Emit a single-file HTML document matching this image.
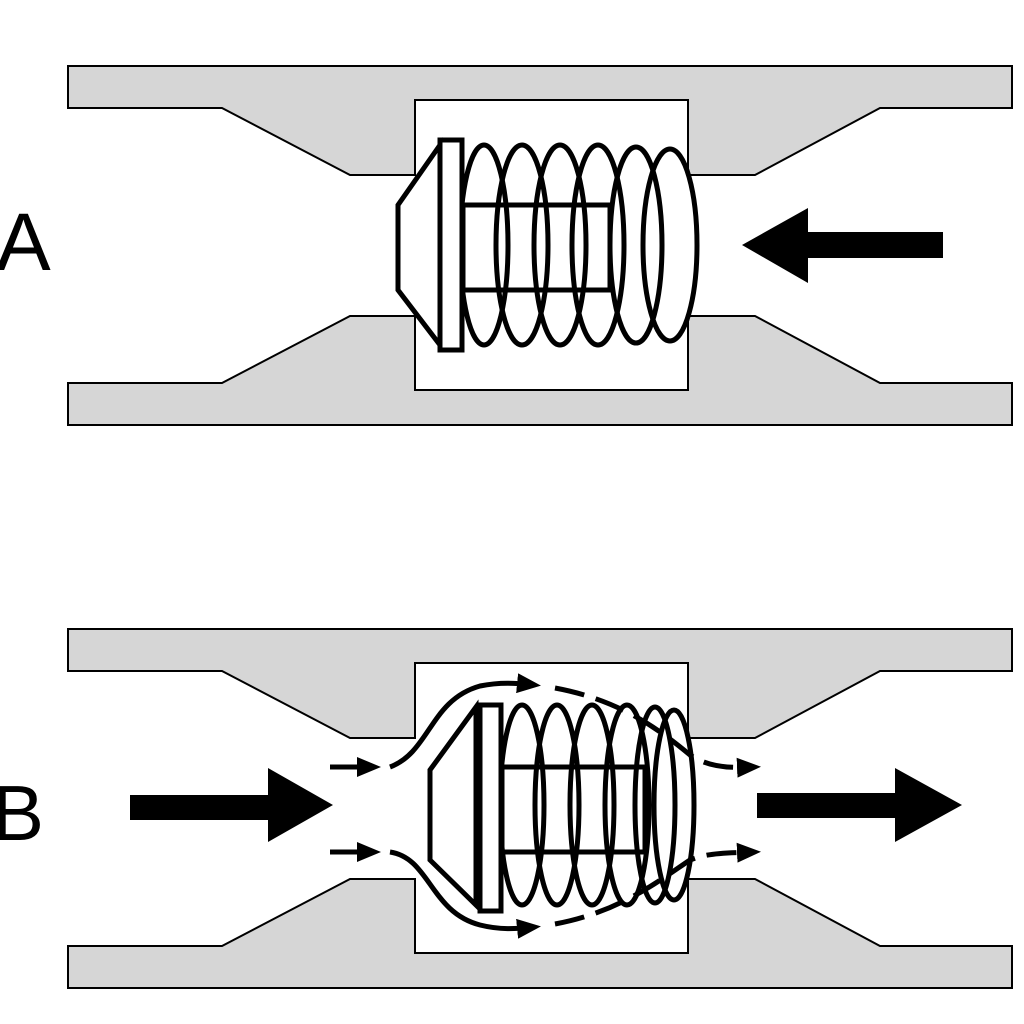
<!DOCTYPE html>
<html><head><meta charset="utf-8"><style>html,body{margin:0;padding:0;background:#fff;width:1024px;height:1024px;overflow:hidden}</style></head>
<body>
<svg width="1024" height="1024" viewBox="0 0 1024 1024" xmlns="http://www.w3.org/2000/svg">
<defs>
<marker id="ah" viewBox="0 0 12 10" refX="9" refY="5" markerUnits="userSpaceOnUse" markerWidth="24" markerHeight="20" orient="auto"><path d="M0,0 L12,5 L0,10 z" fill="#000"/></marker>
<g id="body" stroke="#000" stroke-width="2" fill="#d6d6d6">
<polygon points="68,66 1012,66 1012,108 880,108 755,175 688,175 688,100 415,100 415,175 350,175 222,108 68,108"/>
<polygon points="68,425 1012,425 1012,383 880,383 755,316 688,316 688,390 415,390 415,316 350,316 222,383 68,383"/>
</g>
</defs>
<use href="#body"/>
<use href="#body" y="563"/>
<text x="-4" y="270" font-family="Liberation Sans, sans-serif" font-size="82" fill="#000">A</text>
<text x="-8" y="840" font-family="Liberation Sans, sans-serif" font-size="78" fill="#000">B</text>
<!-- A valve -->
<g stroke="#000" stroke-width="5" fill="none">
<rect x="463" y="205" width="147" height="85" fill="#fff"/>
<ellipse cx="484" cy="245" rx="24" ry="100"/>
<ellipse cx="522" cy="245" rx="26" ry="100"/>
<ellipse cx="560" cy="245" rx="26" ry="100"/>
<ellipse cx="598" cy="245" rx="26" ry="100"/>
<ellipse cx="636" cy="245" rx="26" ry="98"/>
<ellipse cx="670" cy="245" rx="27" ry="96"/>
<polygon points="440,145 398,205 398,290 440,345" fill="#fff"/>
<rect x="440" y="140" width="22" height="210" fill="#fff"/>
</g>
<polygon points="742,245 808,208 808,232 943,232 943,258 808,258 808,283" fill="#000"/>
<!-- B valve -->
<g stroke="#000" stroke-width="5" fill="none">
<rect x="502" y="767" width="143" height="85" fill="#fff"/>
<ellipse cx="522" cy="805" rx="22" ry="100"/>
<ellipse cx="557" cy="805" rx="22" ry="100"/>
<ellipse cx="592" cy="805" rx="22" ry="100"/>
<ellipse cx="627" cy="805" rx="22" ry="100"/>
<ellipse cx="655" cy="805" rx="20" ry="98"/>
<ellipse cx="674" cy="805" rx="20" ry="95"/>
<polygon points="476,707 430,770 430,860 476,905" fill="#fff"/>
<rect x="480" y="705" width="21" height="206" fill="#fff"/>
<path d="M390,767 C430,752 430,700 480,686 C500,682 515,683 535,685" marker-end="url(#ah)"/>
<path d="M555,688 C620,700 660,730 690,755 C710,768 730,768 755,767" stroke-dasharray="30,12" marker-end="url(#ah)"/>
<path d="M390,852 C430,858 430,912 480,925 C500,930 515,929 535,927" marker-end="url(#ah)"/>
<path d="M555,924 C620,912 660,880 690,860 C710,852 730,853 755,852" stroke-dasharray="30,12" marker-end="url(#ah)"/>
<path d="M330,767 L375,767" marker-end="url(#ah)"/>
<path d="M330,852 L375,852" marker-end="url(#ah)"/>
</g>
<polygon points="130,795 268,795 268,768 333,805 268,842 268,820 130,820" fill="#000"/>
<polygon points="757,793 895,793 895,768 962,805 895,842 895,818 757,818" fill="#000"/>
</svg>
</body></html>
